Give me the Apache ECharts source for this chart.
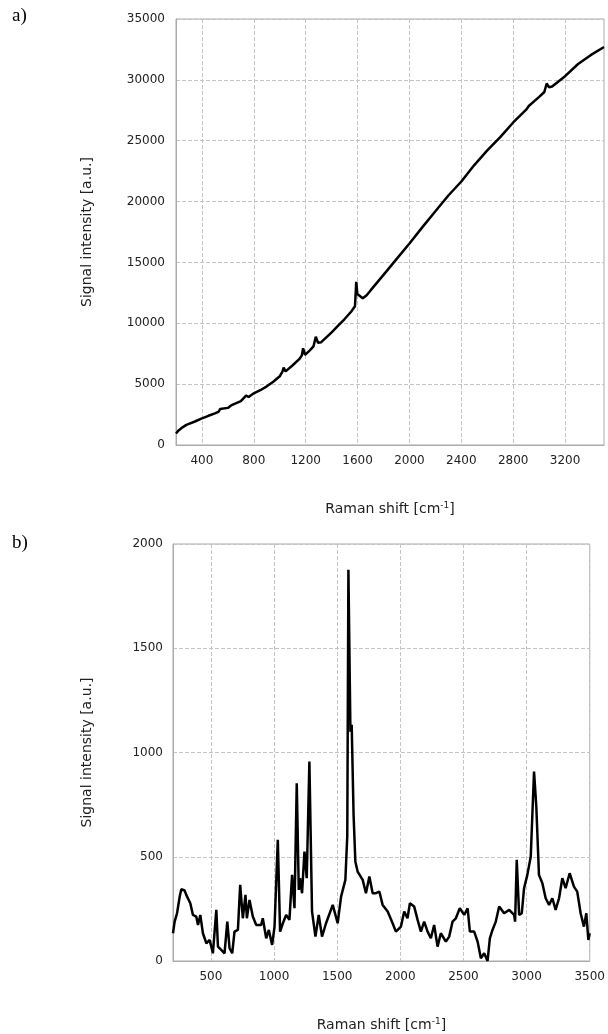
<!DOCTYPE html>
<html>
<head>
<meta charset="utf-8">
<script src="https://cdn.jsdelivr.net/npm/echarts@6/dist/echarts.min.js"></script>
<style>html,body{margin:0;padding:0;background:#fff;}#c{width:608px;height:1034px;}</style>
</head>
<body>
<div id="c"></div>
<script>
// Panel a) raw spectrum
const rawShift = [200,220,250,280,310,350,400,450,500,530,540,555,600,625,640,700,740,760,800,850,900,950,1000,1020,1030,1045,1100,1150,1170,1180,1195,1230,1260,1278,1295,1320,1400,1450,1500,1550,1580,1590,1598,1610,1640,1670,1700,1800,1900,2000,2100,2200,2300,2400,2500,2600,2700,2800,2900,2920,2930,3000,3040,3058,3075,3100,3200,3300,3400,3500];
const rawIntensity = [950,1200,1450,1650,1780,1950,2180,2400,2600,2750,2950,2800,3050,3250,3200,3600,4050,3950,4250,4500,4820,5200,5650,6000,6350,6050,6550,7050,7350,7950,7400,7750,8100,8900,8400,8450,9250,9800,10350,10950,11400,13400,12400,12500,12050,12300,12700,13980,15270,16550,17900,19200,20500,21650,23000,24200,25300,26500,27550,27850,27750,28600,29000,29700,29400,29450,30300,31300,32050,32700];

// Panel b) processed spectrum
const procShift = [200,213,232,253,266,292,305,319,337,358,384,398,416,437,464,490,516,543,556,582,608,630,648,669,687,714,732,753,774,785,806,832,859,898,911,938,959,985,1004,1030,1048,1070,1096,1122,1143,1162,1180,1196,1206,1222,1241,1259,1280,1301,1328,1354,1380,1412,1465,1504,1531,1565,1580,1589,1605,1615,1630,1644,1662,1702,1728,1755,1781,1807,1834,1860,1900,1939,1965,2005,2031,2057,2076,2110,2137,2163,2189,2216,2242,2268,2295,2321,2361,2387,2414,2440,2471,2506,2533,2551,2585,2612,2638,2664,2691,2709,2730,2756,2783,2822,2862,2901,2909,2922,2941,2962,2980,3006,3033,3059,3077,3098,3125,3151,3178,3204,3230,3257,3283,3309,3341,3375,3401,3428,3454,3473,3489,3500];
const procIntensity = [133,189,229,309,344,338,317,322,277,221,213,173,221,133,85,101,37,245,69,53,37,189,61,37,141,149,365,205,317,205,293,213,173,173,205,109,149,77,165,581,141,181,221,197,413,253,853,341,397,325,525,397,957,237,117,221,117,181,269,181,309,389,600,1877,1100,1133,700,477,429,389,325,405,325,325,333,269,237,181,141,165,237,205,277,261,197,141,189,141,109,173,69,133,93,117,189,205,253,221,253,141,141,93,13,37,0,109,149,189,261,229,245,221,189,485,221,229,349,413,501,909,741,413,373,301,269,301,245,301,397,349,421,357,333,229,165,229,101,133];

// Tick labels
const ticksXA = [400,800,1200,1600,2000,2400,2800,3200];
const ticksXB = [500,1000,1500,2000,2500,3000,3500];

const axisGray = '#aaaaaa';
function gridLine(){ return {show:true, lineStyle:{color:'#c4c4c4', type:'dashed', dashOffset:0, width:1}}; }
function labelStyle(margin){ return {color:'#222', fontFamily:'DejaVu Sans', fontSize:12, margin:margin, formatter:(v)=>String(v)}; }
function nameStyle(){ return {color:'#222', fontFamily:'DejaVu Sans', fontSize:14,
  rich:{sup:{fontFamily:'DejaVu Sans', fontSize:9, color:'#222', padding:[0,0,8,0]}}}; }

const chart = echarts.init(document.getElementById('c'), null, {renderer:'canvas'});
chart.setOption({
  animation:false,
  backgroundColor:'#fff',
  grid:[
    {left:176, top:19, width:428, height:426, show:true, borderColor:axisGray, borderWidth:1, backgroundColor:'transparent'},
    {left:173, top:544, width:418, height:417, show:true, borderColor:axisGray, borderWidth:1, backgroundColor:'transparent'}
  ],
  graphic:[
    {type:'text', left:12, top:7, style:{text:'a)', font:'19px "Liberation Serif"', fill:'#000'}},
    {type:'text', left:12, top:534, style:{text:'b)', font:'19px "Liberation Serif"', fill:'#000'}}
  ],
  xAxis:[
    {type:'value', gridIndex:0, min:200, max:3500,
     axisLine:{lineStyle:{color:axisGray}}, axisTick:{show:false, customValues:ticksXA},
     axisLabel:Object.assign({customValues:ticksXA}, labelStyle(10)),
     splitLine:gridLine(),
     name:'Raman shift [cm{sup|-1}]', nameLocation:'middle', nameGap:56, nameTextStyle:nameStyle()},
    {type:'value', gridIndex:1, min:200, max:3500,
     axisLine:{lineStyle:{color:axisGray}}, axisTick:{show:false, customValues:ticksXB},
     axisLabel:Object.assign({customValues:ticksXB}, labelStyle(10)),
     splitLine:gridLine(),
     name:'Raman shift [cm{sup|-1}]', nameLocation:'middle', nameGap:56, nameTextStyle:nameStyle()}
  ],
  yAxis:[
    {type:'value', gridIndex:0, min:0, max:35000, interval:5000,
     axisLine:{show:true, lineStyle:{color:axisGray}}, axisTick:{show:false},
     axisLabel:labelStyle(11), splitLine:gridLine(),
     name:'Signal intensity [a.u.]', nameLocation:'middle', nameGap:82, nameTextStyle:nameStyle()},
    {type:'value', gridIndex:1, min:0, max:2000, interval:500,
     axisLine:{show:true, lineStyle:{color:axisGray}}, axisTick:{show:false},
     axisLabel:labelStyle(10), splitLine:gridLine(),
     name:'Signal intensity [a.u.]', nameLocation:'middle', nameGap:79, nameTextStyle:nameStyle()}
  ],
  series:[
    {type:'line', xAxisIndex:0, yAxisIndex:0, showSymbol:false, symbol:'none', z:5,
     lineStyle:{color:'#000', width:2.5}, data:rawShift.map((x,i)=>[x, rawIntensity[i]])},
    {type:'line', xAxisIndex:1, yAxisIndex:1, showSymbol:false, symbol:'none', z:5,
     lineStyle:{color:'#000', width:2.5}, data:procShift.map((x,i)=>[x, procIntensity[i]])}
  ]
});
</script>
</body>
</html>
